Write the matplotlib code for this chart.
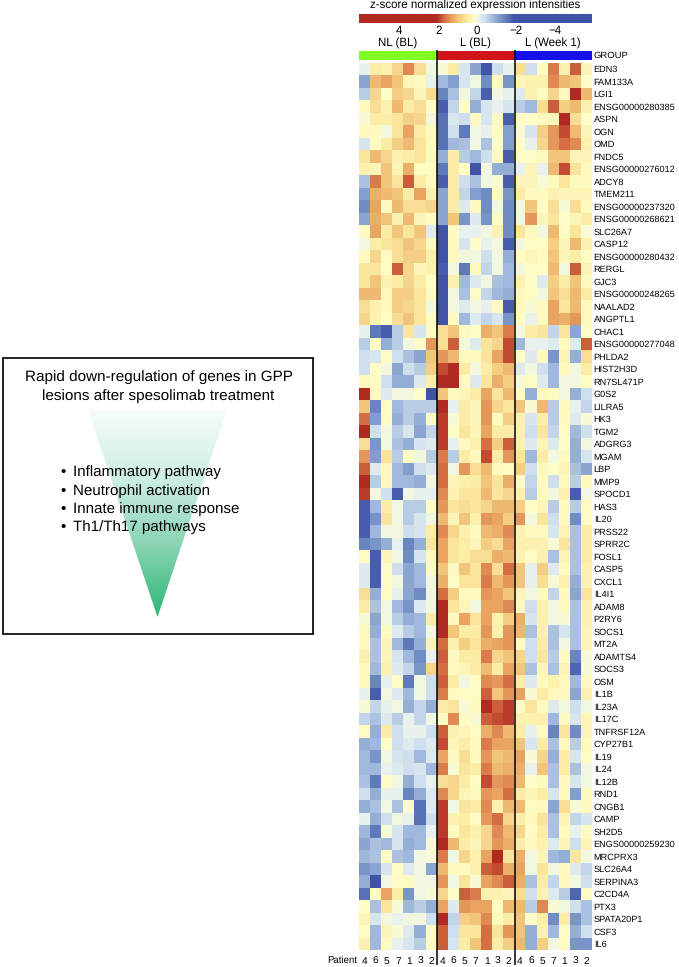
import matplotlib
matplotlib.use("Agg")
import matplotlib.pyplot as plt
import numpy as np
from matplotlib.colors import LinearSegmentedColormap, ListedColormap
from matplotlib.patches import Polygon, Rectangle

plt.rcParams['font.family'] = ['Liberation Sans', 'DejaVu Sans']
plt.rcParams['text.hinting'] = 'none'

genes = ["EDN3", "FAM133A", "LGI1", "ENSG00000280385", "ASPN", "OGN", "OMD", "FNDC5",
	"ENSG00000276012", "ADCY8", "TMEM211", "ENSG00000237320", "ENSG00000268621", "SLC26A7",
	"CASP12", "ENSG00000280432", "RERGL", "GJC3", "ENSG00000248265", "NAALAD2", "ANGPTL1",
	"CHAC1", "ENSG00000277048", "PHLDA2", "HIST2H3D", "RN7SL471P", "G0S2", "LILRA5", "HK3",
	"TGM2", "ADGRG3", "MGAM", "LBP", "MMP9", "SPOCD1", "HAS3", "IL20", "PRSS22", "SPRR2C",
	"FOSL1", "CASP5", "CXCL1", "IL4I1", "ADAM8", "P2RY6", "SOCS1", "MT2A", "ADAMTS4", "SOCS3",
	"OSM", "IL1B", "IL23A", "IL17C", "TNFRSF12A", "CYP27B1", "IL19", "IL24", "IL12B", "RND1",
	"CNGB1", "CAMP", "SH2D5", "ENGS00000259230", "MRCPRX3", "SLC26A4", "SERPINA3", "C2CD4A",
	"PTX3", "SPATA20P1", "CSF3", "IL6"]
patients = ["4", "6", "5", "7", "1", "3", "2"]
groups = ["NL (BL)", "L (BL)", "L (Week 1)"]
bar_ticks = [4, 2, 0, -2, -4]

nl_bl = [
	[-0.2, 0.4, 0.3, 0.7, 1.4, 0.6, -0.1],
	[-1.1, 1.0, 1.2, 0.9, 0.2, 0.1, -0.2],
	[-0.7, 0.7, 0.0, 0.8, 0.7, 0.2, 0.6],
	[0.1, 0.6, 0.3, 1.0, 0.4, 0.6, 0.0],
	[-0.05, 0.4, 0.4, 0.5, 0.8, 0.7, -0.1],
	[0.1, 0.1, -0.1, 0.5, 1.2, 0.4, 0.1],
	[-0.4, 0.1, 0.4, 0.8, 1.0, 0.5, 0.1],
	[0.5, 1.0, 0.7, 0.3, 0.4, 0.5, 0.1],
	[0.3, 0.2, 0.9, 0.2, 1.1, 0.05, 0.05],
	[-0.8, 1.5, 0.9, 0.5, 1.7, 0.4, 0.1],
	[-1.2, 1.1, 1.0, 0.9, 0.4, 1.2, 0.3],
	[-1.4, 1.2, 0.1, 1.0, 0.6, 0.6, 0.7],
	[-1.1, 1.1, 0.9, 0.3, 1.0, 0.2, 0.05],
	[0.05, 1.2, 0.4, 0.9, 0.5, 0.9, -0.3],
	[-0.1, 0.4, 0.5, 0.6, 0.9, 0.7, 0.1],
	[0.1, 0.7, 0.05, 0.6, 0.8, 0.8, 0.3],
	[0.5, 0.5, 0.05, 1.7, 0.7, 0.2, 0.3],
	[0.5, 0.9, 0.3, 0.4, 0.7, 0.4, 0.0],
	[1.0, 1.0, 0.1, 0.8, 0.8, 0.5, 0.05],
	[0.6, 0.3, 0.1, 0.8, 0.7, 0.5, -0.1],
	[0.7, 0.3, 0.05, 0.6, 0.9, 0.5, 0.05],
	[-0.2, -1.6, -1.9, -0.7, 0.5, -0.4, 0.05],
	[-0.7, 0.05, -1.0, -0.7, -0.1, 0.0, 1.3],
	[-0.5, -0.4, 0.05, -0.5, -0.8, -1.1, 0.9],
	[-0.5, 0.05, -0.1, -1.1, -0.5, -0.7, 0.8],
	[0.1, 0.05, -0.5, -1.0, -1.0, -0.3, 0.4],
	[2.0, 0.1, -0.3, -0.1, -0.1, 0.0, -2.0],
	[0.9, -1.5, 0.05, -0.9, -0.7, -0.7, -0.7],
	[1.6, -1.2, 0.05, -1.0, -0.7, -1.0, 0.05],
	[2.0, -0.5, -0.1, -0.7, -0.4, -1.1, -0.6],
	[0.6, -1.3, -0.1, -0.8, -1.0, -0.4, -0.3],
	[1.3, -1.2, 0.5, -0.7, 0.05, -0.1, -0.7],
	[1.7, -0.3, 0.1, -0.9, -1.2, -0.5, -0.3],
	[2.0, -0.7, 0.1, -0.9, -0.9, -1.0, -0.1],
	[1.9, -0.1, -0.5, -1.9, -0.1, -0.2, -0.2],
	[-1.9, -0.9, 0.4, -0.1, -0.7, -0.7, 0.0],
	[-1.9, -1.3, 0.5, -0.1, -0.7, -0.4, -0.1],
	[-1.9, -0.9, -0.1, -0.1, -0.5, -0.4, 0.4],
	[-1.5, -1.3, -1.0, -0.2, -1.5, -1.0, 0.5],
	[0.05, -1.9, 0.2, -0.1, -1.4, -0.4, 0.1],
	[-0.3, -1.9, 0.05, -0.5, -1.1, -0.9, 0.05],
	[-0.3, -1.9, 0.05, -0.1, -1.1, -0.9, -0.1],
	[0.6, -1.0, 0.05, -0.2, -1.1, -1.4, -0.1],
	[0.4, -0.8, -0.1, -0.9, -1.3, -0.3, -0.1],
	[-0.05, -1.1, -0.1, -0.7, -1.0, -0.9, 0.4],
	[0.1, -1.0, 0.05, -0.3, -0.7, -0.9, -0.1],
	[0.1, -0.8, 0.2, -0.9, -1.6, -1.0, 0.2],
	[0.3, -0.8, 0.2, -0.4, -0.9, -1.4, -0.2],
	[0.1, -0.9, 0.3, -0.3, -0.6, -1.3, 0.7],
	[0.1, -1.5, -0.2, 0.0, -1.6, -0.1, -0.5],
	[-0.2, -1.9, -0.1, -0.3, -0.9, -0.1, -0.5],
	[-0.05, -0.6, -0.2, -0.1, -1.0, -0.6, -1.0],
	[-0.6, -0.8, -0.3, -0.7, -0.2, -0.6, -0.1],
	[0.05, -1.0, 0.4, -0.5, -0.2, -0.2, -0.5],
	[-1.0, -0.9, 0.0, -0.5, -0.3, -0.5, -0.3],
	[-0.9, -1.3, -0.1, -0.4, -0.5, -0.9, -0.3],
	[-0.9, -0.9, -0.2, -0.3, -0.5, -0.4, -0.9],
	[-0.8, -1.6, 0.05, -0.1, -1.0, -0.5, -0.2],
	[-0.5, -1.0, -0.2, -0.2, -1.5, -1.0, -0.3],
	[-1.0, -0.8, -0.1, -0.8, -0.05, -1.7, -0.3],
	[-0.2, -1.0, -0.5, -0.1, -0.2, -1.7, -0.5],
	[-0.9, -1.6, -0.05, -0.4, -0.9, -0.9, -0.2],
	[-1.1, -0.8, -0.9, -0.4, -1.0, -0.9, -0.05],
	[-0.9, -0.8, 0.05, -0.8, -0.9, -0.1, -0.05],
	[-1.3, -1.1, -0.4, 0.05, -0.3, -0.1, -1.1],
	[-1.0, -2.0, -0.1, 0.0, 0.05, -0.1, -0.1],
	[-1.7, 0.05, 1.2, 0.4, -1.3, -0.1, -0.05],
	[0.0, -0.8, 0.5, -0.05, -0.9, -0.7, -1.0],
	[0.2, -0.4, -0.1, -0.2, -0.1, -0.1, -0.5],
	[0.05, -0.9, 0.2, -0.05, -0.3, -1.0, 0.05],
	[0.3, -0.9, 0.05, -0.2, -0.4, -0.7, 0.05],
]

l_bl = [
	[-0.05, 0.4, -0.4, -1.1, -2.0, -0.5, -0.2],
	[-0.9, -1.2, -0.4, -0.1, -1.4, 0.1, -1.3],
	[-1.5, -0.8, -0.1, -0.6, -1.9, -0.1, -0.2],
	[-1.9, -0.6, 0.0, -1.0, -0.4, -0.2, -0.4],
	[-1.7, -0.4, -0.5, 0.1, -0.4, 0.1, -1.9],
	[-1.7, -0.5, -1.6, -0.1, -0.2, 0.1, -1.2],
	[-1.7, -0.9, -0.8, -0.1, -0.8, 0.0, -1.2],
	[-1.0, 0.4, -0.7, -0.9, -0.5, 0.1, -1.9],
	[-1.6, 0.4, 0.0, -2.0, -0.1, -1.0, -1.0],
	[-1.9, 0.4, -0.5, -0.8, -0.1, -0.05, -1.9],
	[-1.1, 0.4, -0.6, -1.2, -1.4, 0.1, -1.3],
	[-1.1, 0.4, -0.3, 0.1, -1.4, -0.1, -1.4],
	[-1.1, 0.9, -1.3, -0.3, -1.3, 0.05, -1.4],
	[-2.0, 0.05, -0.2, -0.2, -0.1, 0.3, -1.4],
	[-2.0, 0.1, -0.4, 0.0, -0.2, -0.1, -1.9],
	[-2.0, 0.1, -0.1, -0.1, -0.5, -0.1, -1.0],
	[-1.9, -0.1, -1.6, 0.1, -0.6, -0.1, -0.9],
	[-2.0, 0.3, -0.9, -0.3, -0.1, -0.8, -0.9],
	[-2.0, -0.1, -0.8, 0.05, -0.6, -0.9, -1.0],
	[-2.0, -0.1, -0.3, -0.1, -0.2, 0.1, -1.9],
	[-2.0, 0.05, -0.9, -0.3, -0.6, -0.4, -1.3],
	[0.6, 0.9, 0.1, 0.0, 1.1, 0.9, 1.5],
	[0.6, 1.7, -0.1, -0.3, 0.5, 0.7, 1.8],
	[1.3, 1.0, 0.1, 0.1, 0.5, 1.2, 1.8],
	[1.8, 2.0, 0.4, -0.1, 0.4, 0.8, 1.0],
	[2.0, 2.0, 0.1, -0.3, 0.5, 1.1, 0.8],
	[0.9, 0.1, 0.2, 0.4, 1.2, 0.5, 1.0],
	[2.0, -0.2, 0.4, 0.2, 1.3, 0.7, 0.5],
	[1.9, -0.05, 0.4, 0.2, 1.3, 0.05, 0.8],
	[1.9, 0.05, 0.5, 0.2, 1.2, 0.4, 0.4],
	[1.9, -0.2, 0.1, 0.3, 1.6, 0.8, 1.7],
	[1.5, -0.7, 0.4, 0.1, 1.8, 0.4, 1.3],
	[1.6, -0.1, 1.3, 0.6, 1.0, 0.1, 0.05],
	[1.6, 0.2, 0.3, 0.4, 0.9, 0.5, 1.1],
	[1.4, 0.3, 0.5, 0.5, 1.0, 0.5, 0.7],
	[1.3, 0.5, 0.6, 0.5, 0.7, 1.0, 1.0],
	[1.0, 0.2, 0.9, 0.3, 1.3, 1.2, 0.8],
	[1.4, 0.7, 0.3, 0.1, 1.0, 1.1, 1.4],
	[1.2, 0.5, 0.4, 0.2, 0.8, 0.6, 1.2],
	[1.2, 0.5, 0.4, 0.6, 0.6, 1.1, 1.0],
	[0.9, 0.1, 0.9, 0.5, 1.4, 0.6, 1.6],
	[1.1, 0.05, 0.5, 0.5, 1.5, 1.0, 1.3],
	[1.6, 0.8, 0.1, 0.1, 1.3, 1.2, 0.9],
	[2.0, 0.5, 0.2, -0.1, 1.2, 1.2, 1.4],
	[2.0, 0.1, 1.2, 0.5, 1.2, 0.3, 0.8],
	[2.0, 0.9, 0.4, 0.4, 1.3, 0.3, 1.3],
	[1.6, 0.3, 0.8, 0.5, 1.1, 1.2, 1.3],
	[1.7, 0.1, 0.4, 0.4, 1.5, 0.7, 0.9],
	[1.6, 0.1, 0.2, 0.4, 1.0, 0.4, 1.2],
	[1.7, 0.4, -0.1, 0.05, 1.4, 1.3, 1.6],
	[1.5, 0.1, 0.0, 0.05, 1.7, 0.9, 1.3],
	[0.4, 0.5, -0.05, 0.1, 2.0, 1.7, 1.9],
	[0.1, 1.4, 0.05, -0.05, 1.7, 1.8, 1.9],
	[1.7, 0.3, 0.2, 0.05, 1.1, 1.4, 1.0],
	[1.8, 0.2, 0.4, 0.1, 1.5, 1.2, 1.2],
	[1.2, 0.1, 0.6, 0.1, 1.3, 0.9, 1.0],
	[1.5, -0.05, 0.5, 0.4, 1.5, 1.0, 1.1],
	[0.6, 0.7, 0.4, 0.05, 1.8, 1.3, 1.4],
	[1.4, 0.7, 0.2, 0.1, 1.3, 1.2, 1.6],
	[1.9, -0.1, 0.5, 0.4, 1.4, 0.3, 1.0],
	[1.9, 0.3, 0.4, 0.05, 1.3, 1.6, 0.7],
	[1.9, 0.1, 0.5, 0.3, 0.7, 1.4, 1.0],
	[2.0, 1.0, 0.4, 0.2, 0.7, 1.3, 1.1],
	[1.5, -0.1, 0.7, 0.3, 1.2, 2.0, 0.5],
	[1.0, 0.1, 0.1, 0.3, 1.7, 1.8, 1.1],
	[1.3, -0.1, 0.5, -0.05, 1.2, 1.4, 1.7],
	[0.7, 0.0, 1.7, 1.5, 0.3, 0.3, 0.2],
	[1.2, -0.3, 1.3, 1.2, 1.2, 0.05, 1.0],
	[2.0, -0.6, 0.8, 0.9, 1.4, 0.1, 0.4],
	[1.7, -0.5, 0.5, 0.5, 1.6, 0.5, 1.3],
	[1.7, -0.4, 0.4, 0.9, 1.6, 0.4, 0.8],
]

l_week1 = [
	[0.6, -0.5, 0.05, 1.5, 0.3, 1.7, 0.2],
	[0.2, 0.3, 0.3, 1.4, 1.0, 0.9, 0.0],
	[-0.3, 0.3, 0.05, 0.7, 0.1, 2.0, 1.0],
	[-0.7, -0.9, 0.6, 1.7, 0.8, 1.0, 0.3],
	[0.0, 0.0, 0.1, 0.2, 2.0, 0.6, 0.0],
	[-0.05, -0.4, 0.8, 1.3, 1.8, 1.0, 0.2],
	[0.0, -0.2, 0.7, 1.3, 1.6, 1.4, 0.3],
	[0.0, 0.0, 0.1, 0.9, 0.9, 0.2, 0.2],
	[-0.2, 0.2, -0.2, 1.0, 1.8, 0.5, 0.1],
	[0.2, 0.2, -0.05, 0.1, 0.5, 0.1, 0.1],
	[0.4, 0.1, 0.1, 0.3, 0.2, 0.2, 0.2],
	[-0.1, 0.9, 0.0, 0.6, -0.05, 0.6, 0.1],
	[-0.1, 1.3, 0.2, 0.5, 0.0, 0.2, 0.4],
	[0.5, 0.1, -0.1, 1.0, 0.05, 0.5, -0.05],
	[-0.1, 0.05, 0.05, 0.8, 0.2, 1.0, 0.3],
	[0.05, 0.2, 0.05, 0.9, 0.2, 0.4, 0.05],
	[-0.1, 0.05, 0.0, 1.0, -0.1, 1.7, 0.2],
	[0.3, 0.05, -0.3, 0.8, 0.4, 0.9, 0.1],
	[0.1, 0.05, -0.1, 0.9, 0.6, 1.0, 0.4],
	[0.1, -0.05, 0.1, 1.2, 0.5, 1.0, 0.1],
	[0.05, -0.2, 0.1, 1.2, 1.1, 1.3, 0.1],
	[-0.1, 0.4, 0.5, -0.6, 0.5, -1.1, 0.05],
	[-0.9, -0.2, -0.2, -0.3, 0.1, -0.3, 1.7],
	[0.0, -0.3, 0.1, -1.3, 0.2, -1.0, 0.6],
	[-0.3, -0.1, -0.5, -0.9, 0.1, -0.1, 0.4],
	[-0.05, 0.05, -0.3, -0.9, -0.1, -0.1, 0.05],
	[0.05, -1.0, 0.1, 0.05, -0.1, -1.0, -0.5],
	[0.9, -0.05, 1.0, -0.7, 0.1, -0.2, -0.6],
	[0.3, -0.4, 0.4, -0.7, 0.1, -0.3, -0.05],
	[0.3, -0.5, 0.5, -0.6, 0.05, -0.9, -0.5],
	[0.3, -0.3, 0.2, -0.3, 0.0, -1.0, -0.1],
	[0.5, -0.9, 0.4, -0.1, 0.1, -1.0, -0.4],
	[0.8, -0.5, 0.1, 0.0, 0.2, -0.8, -1.1],
	[0.05, -0.6, 0.05, -0.5, 0.1, -0.7, 0.1],
	[0.3, -0.7, 0.1, -0.1, 0.3, -1.9, -0.1],
	[0.8, 0.0, 0.2, -0.7, 0.1, -0.7, 0.05],
	[1.3, -0.1, 0.5, -0.5, 0.1, -1.4, 0.05],
	[0.3, 0.1, 0.1, -0.4, 0.2, -0.8, 0.4],
	[0.3, 0.3, 0.3, -0.05, 0.5, -0.8, 0.4],
	[0.3, 0.05, 0.3, -0.8, 0.2, -0.8, 0.4],
	[0.9, -0.2, 0.8, -0.3, 0.1, -0.8, 0.3],
	[0.9, -0.2, 0.6, -0.05, 0.3, -1.0, 0.3],
	[0.2, -0.1, 0.1, -0.6, 0.1, -1.1, 0.5],
	[0.1, -0.5, 0.3, -0.1, 0.1, -0.8, 0.3],
	[1.1, -0.4, 0.3, -0.1, -0.05, -0.8, 0.3],
	[1.0, -0.8, 0.3, -0.8, -0.4, -0.8, 0.2],
	[0.05, -0.5, 0.4, -0.8, -0.1, -0.8, 0.2],
	[0.7, -0.5, 0.5, -0.7, 0.05, -1.5, -0.05],
	[0.9, -0.8, 0.2, -0.8, 0.2, -1.8, -0.05],
	[0.4, -0.3, 0.1, 0.3, 0.1, -0.9, 0.1],
	[1.2, -0.05, 0.4, 0.1, 0.1, -1.1, 0.3],
	[0.05, 0.5, 0.1, -0.3, -0.1, -0.5, -0.1],
	[0.3, 0.3, 0.3, -0.9, 0.1, -0.4, 0.2],
	[0.4, -0.2, 0.1, -1.5, 0.5, -1.4, 0.2],
	[0.9, -0.4, 0.4, -0.8, 0.1, -0.7, 0.1],
	[1.2, -0.05, 0.7, -1.0, 0.4, -0.4, 0.05],
	[1.1, -0.2, 0.9, -0.8, 0.4, -0.8, -0.1],
	[1.0, 0.0, 0.1, -0.8, 0.1, -0.4, -0.1],
	[0.4, 0.2, 0.4, -0.4, 0.1, -1.2, 0.1],
	[1.0, 0.05, 0.1, -1.1, 0.6, -0.05, 0.1],
	[0.4, 0.1, 0.5, -0.8, 0.2, -0.6, -0.4],
	[0.7, 0.05, 0.4, -0.8, 0.1, -0.2, 0.05],
	[0.4, 0.1, 0.3, -0.3, 0.2, -0.5, 0.2],
	[1.1, -0.1, 0.2, -0.9, -1.0, 0.5, -0.1],
	[1.2, -0.1, 0.5, -0.1, 0.1, -0.3, -0.6],
	[1.1, -0.8, 0.4, -0.6, 0.1, -0.1, -0.5],
	[0.6, -0.5, 0.3, -0.3, -0.7, -1.8, 0.05],
	[1.0, -0.7, 1.4, -0.05, -0.1, -0.5, -0.8],
	[0.9, 0.0, 0.4, -1.4, 0.4, -1.3, -0.8],
	[0.9, -1.0, 0.3, -0.9, 0.0, -1.0, -0.5],
	[1.0, -1.0, 0.8, -0.1, 0.05, -1.3, -1.3],
]

W, H = 679, 967

# pixel box -> figure fractions
def pxAxes(fig, left, top, right, bottom):
	return fig.add_axes([left / W, 1 - bottom / H, (right - left) / W, (bottom - top) / H])

zcmap = LinearSegmentedColormap.from_list("zscore", [
	(0.0, "#4054a6"), (0.125, "#6885be"), (0.25, "#94aed6"), (0.375, "#cfdfee"), (0.46, "#ebf3ee"),
	(0.5, "#fefdc8"), (0.6, "#fbeda6"), (0.72, "#f3c87c"), (0.82, "#e69b5c"), (0.91, "#d26a40"), (1.0, "#b02a22")])

fig = plt.figure(figsize = (W / 100, H / 100), dpi = 100)

# heatmap
values = np.hstack([np.array(nl_bl), np.array(l_bl), np.array(l_week1)])
ax = pxAxes(fig, 359, 62.5, 592, 950)
ax.pcolormesh(values, cmap = zcmap, vmin = -2, vmax = 2)
ax.set_ylim(len(genes), 0)
ax.set_xticks(np.arange(values.shape[1]) + 0.5)
ax.set_xticklabels(patients * 3, fontsize = 7.4)
ax.set_yticks(np.arange(len(genes)) + 0.5)
ax.set_yticklabels(genes, fontsize = 6.6)
ax.yaxis.tick_right()
ax.tick_params(axis = 'both', length = 0)
ax.tick_params(axis = 'x', pad = 5)
ax.tick_params(axis = 'y', pad = 1.2)
for s in ax.spines.values():
	s.set_visible(False)

# group strip
strip = pxAxes(fig, 359, 51, 592, 60.5)
strip.imshow([[0] * 7 + [1] * 7 + [2] * 7], aspect = 'auto',
	cmap = ListedColormap(["#80ff20", "#d01418", "#1410e8"]))
strip.axis('off')

# colour bar
cbar = pxAxes(fig, 359, 14, 592, 23.5)
cbar.imshow(np.linspace(6, -6, 466)[None, :], aspect = 'auto', cmap = zcmap, vmin = -2, vmax = 2,
	extent = [6, -6, 0, 1])
cbar.axis('off')

# everything else is placed in pixels
over = fig.add_axes([0, 0, 1, 1], facecolor = 'none')
over.set_xlim(0, W)
over.set_ylim(H, 0)
over.axis('off')

over.text(475, 5, "z-score normalized expression intensities", ha = 'center', va = 'center', fontsize = 8.3)
for v in bar_ticks:
	label = str(v).replace("-", "\u2212")
	over.text(477 - v * 19.4, 30.5, label, ha = 'center', va = 'center', fontsize = 8.3)
for i, g in enumerate(groups):
	over.text(359 + 233 * (i + 0.5) / 3, 43, g, ha = 'center', va = 'center', fontsize = 8.3)
over.text(594, 55.5, "GROUP", ha = 'left', va = 'center', fontsize = 6.8)
over.text(357, 960.5, "Patient", ha = 'right', va = 'center', fontsize = 6.9)
for x in [437, 514.5]:
	over.plot([x, x], [50, 965], color = 'black', lw = 1.1, solid_capstyle = 'butt')

# pathway box
over.add_patch(Rectangle((3, 358), 310, 276, fill = False, ec = '#111111', lw = 1.3))
grad = np.linspace(0, 1, 256)[:, None]
green = LinearSegmentedColormap.from_list("grad", ["#f6fcfb", "#cdeee2", "#86d3b2", "#2cb673"])
im = over.imshow(grad, cmap = green, aspect = 'auto', extent = [88, 227, 617, 410], zorder = 1)
tri = Polygon([(88, 410), (227, 410), (157.5, 617)], closed = True, transform = over.transData,
	fc = 'none', ec = 'none')
over.add_patch(tri)
im.set_clip_path(tri)
over.set_xlim(0, W)
over.set_ylim(H, 0)

over.text(158.5, 377.5, "Rapid down-regulation of genes in GPP", ha = 'center', va = 'center', fontsize = 11, zorder = 3)
over.text(158.5, 396, "lesions after spesolimab treatment", ha = 'center', va = 'center', fontsize = 11, zorder = 3)
bullets = ["Inflammatory pathway", "Neutrophil activation", "Innate immune response", "Th1/Th17 pathways"]
for i, b in enumerate(bullets):
	y = 472.5 + i * 18.3
	over.text(60, y, "\u2022", ha = 'left', va = 'center', fontsize = 10.9, zorder = 3)
	over.text(73, y, b, ha = 'left', va = 'center', fontsize = 10.9, zorder = 3)

fig.savefig("out.png", dpi = 100)
